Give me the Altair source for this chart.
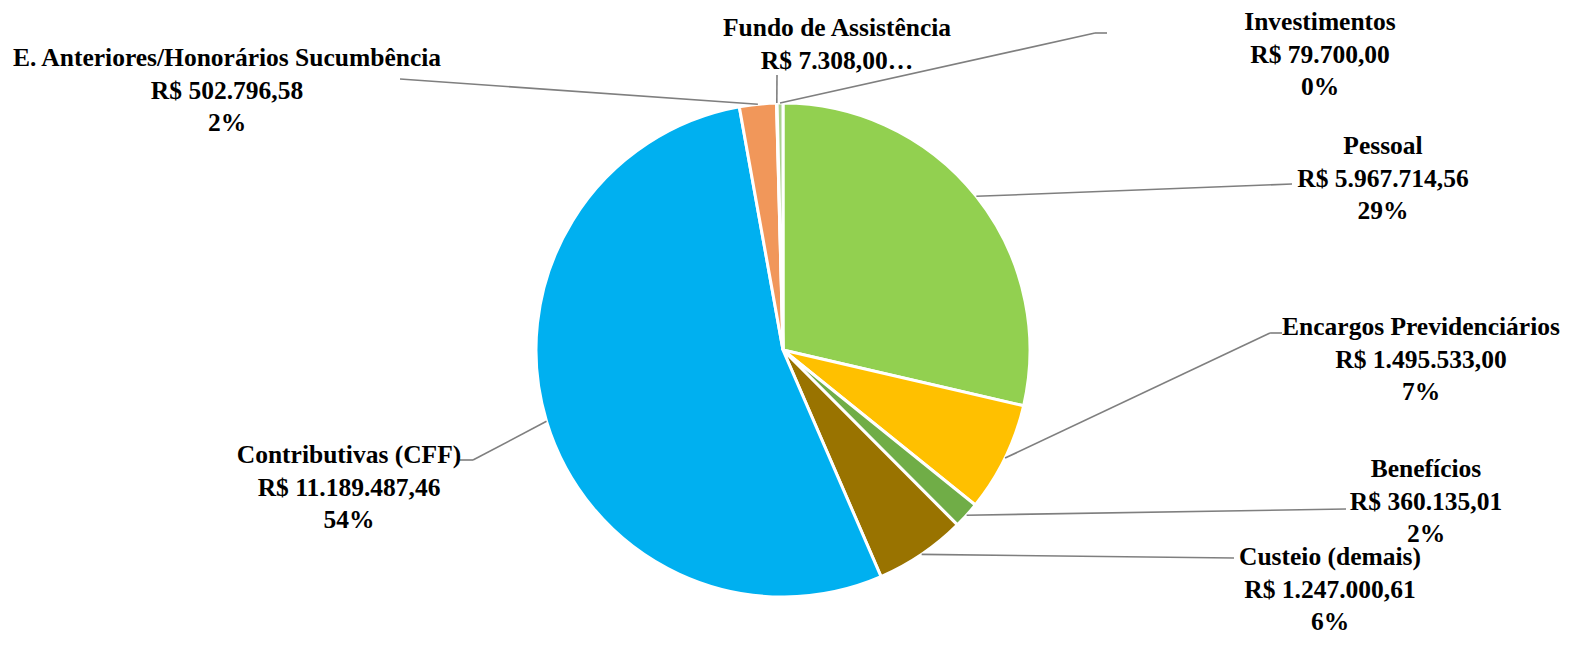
import math
import altair as alt
import pandas as pd

# ---------------- data ----------------
names = [
    "Pessoal",
    "Encargos Previdenciários",
    "Benefícios",
    "Custeio (demais)",
    "Contributivas (CFF)",
    "E. Anteriores/Honorários Sucumbência",
    "Fundo de Assistência",
    "Investimentos",
]
values = [5967714.56, 1495533.00, 360135.01, 1247000.61, 11189487.46, 502796.58, 7308.00, 79700.00]
colors = ["#92D050", "#FFC000", "#70AD47", "#997300", "#00B0F0", "#F1975A", "#B4C7E7", "#A9D18E"]
title_text = "Valores Acumulados – Jan/2022 a Abr/2022"

# ---------------- layout (page pixels, minus the 8px page margin) ----------------
OFF = 8
W, H = 1570 - 2 * OFF, 647 - 2 * OFF
CX, CY, R = 783 - OFF, 350 - OFF, 247
FONT = "Liberation Serif"
FS = 25.5
LH = 32.5
# label first-line centre (x, y) and leader elbow / end points, page coordinates
label_xy = [(1383, 146), (1421, 327), (1426, 469), (1330, 557), (349, 455), (227, 58), (837, 28), (1320, 22)]
leader_pts = [
    [(1292, 184)],
    [(1270, 333), (1282, 333)],
    [(1346, 509)],
    [(1234, 558)],
    [(473, 460), (460, 460)],
    [(400, 79)],
    [(777, 75)],
    [(1095, 33), (1107, 33)],
]


def brl(v):
    s = f"{v:,.2f}"
    s = s.replace(",", "X").replace(".", ",").replace("X", ".")
    return "R$ " + s


total = sum(values)
rows, segs = [], []
cum = 0.0
for i, (n, v) in enumerate(zip(names, values)):
    mid = (cum + v / 2) / total * 2 * math.pi
    cum += v
    pct = round(v / total * 100)
    if n == "Fundo de Assistência":
        label = f"{n}\n{brl(v)}…"
    else:
        label = f"{n}\n{brl(v)}\n{pct}%"
    lx, ly = label_xy[i]
    rows.append({"idx": i, "name": n, "value": v, "label": label,
                 "lx": lx - OFF, "ly": ly - OFF})
    sx = CX + R * math.sin(mid)
    sy = CY - R * math.cos(mid)
    pts = [(sx, sy)] + [(px - OFF, py - OFF) for px, py in leader_pts[i]]
    for a, b in zip(pts[:-1], pts[1:]):
        segs.append({"name": n, "x": a[0], "y": a[1], "x2": b[0], "y2": b[1]})

df = pd.DataFrame(rows)
seg_df = pd.DataFrame(segs)

pie = alt.Chart(df).mark_arc(outerRadius=R, stroke="white", strokeWidth=3).encode(
    theta=alt.Theta("value:Q", stack=True),
    order=alt.Order("idx:Q"),
    color=alt.Color("name:N", scale=alt.Scale(domain=names, range=colors), legend=None),
    x=alt.value(CX),
    y=alt.value(CY),
)

leaders = alt.Chart(seg_df).mark_rule(color="#7F7F7F", strokeWidth=1.6).encode(
    x=alt.X("x:Q", scale=None, axis=None),
    y=alt.Y("y:Q", scale=None, axis=None),
    x2="x2:Q",
    y2="y2:Q",
)

labels = alt.Chart(df).mark_text(
    font=FONT, fontSize=FS, fontWeight="bold", color="black",
    align="center", baseline="middle", lineBreak="\n", lineHeight=LH,
).encode(
    x=alt.X("lx:Q", scale=None, axis=None),
    y=alt.Y("ly:Q", scale=None, axis=None),
    text="label:N",
)

title = alt.Chart(pd.DataFrame({"t": [title_text]})).mark_text(
    font=FONT, fontSize=42, fontWeight="bold", color="black",
    align="center", baseline="alphabetic",
).encode(
    x=alt.value(740 - OFF),
    y=alt.value(-4),
    text="t:N",
)

chart = alt.layer(pie, leaders, labels, title).properties(
    width=W, height=H,
    autosize=alt.AutoSizeParams(type="none"),
    padding=0,
).configure_view(stroke=None)

chart.save("out.html", embed_options={"renderer": "svg", "actions": False})
